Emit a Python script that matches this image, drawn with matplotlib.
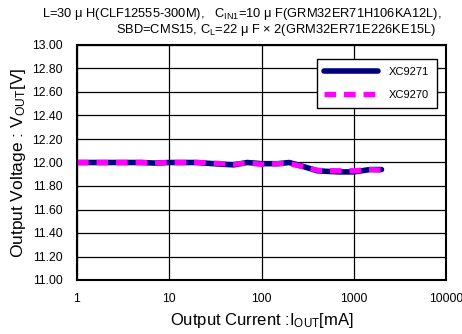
import numpy as np
import matplotlib
matplotlib.use("Agg")
import matplotlib.pyplot as plt

plt.rcParams['font.family'] = ['Liberation Sans', 'DejaVu Sans']
plt.rcParams['mathtext.fontset'] = 'custom'
plt.rcParams['mathtext.rm'] = 'Liberation Sans'
plt.rcParams['mathtext.it'] = 'Liberation Sans'

# output current [mA]
iout = [1, 2, 3, 5, 7, 10, 20, 30, 50, 70, 100, 150, 200, 300, 400, 500, 700, 1000, 1500, 2000]
# output voltage [V]
vout_9271 = [12.00, 12.00, 12.00, 12.00, 11.995, 12.00, 12.00, 11.99, 11.98, 12.00,
             11.99, 11.99, 12.00, 11.96, 11.93, 11.925, 11.92, 11.92, 11.94, 11.94]
vout_9270 = [12.00, 12.00, 12.00, 12.00, 11.995, 12.00, 12.00, 11.995, 11.985, 11.995,
             11.985, 11.99, 11.99, 11.96, 11.935, 11.93, 11.93, 11.93, 11.94, 11.935]
yticks = [11.0, 11.2, 11.4, 11.6, 11.8, 12.0, 12.2, 12.4, 12.6, 12.8, 13.0]
xticks = [1, 10, 100, 1000, 10000]

fig = plt.figure(figsize=(4.62, 3.34), dpi=100)
ax = fig.add_axes([77/462, 1-280/334, 369/462, 235/334])

ax.plot(iout, vout_9271, color='#000080', lw=4, label='XC9271', solid_capstyle='round')
ax.plot(iout, vout_9270, color='#ff00ff', lw=3.8, ls=(0, (2.2, 1.5)), label='XC9270')

ax.set_xscale('log')
ax.set_xlim(1, 10000)
ax.set_ylim(11, 13)
ax.set_xticks(xticks)
ax.set_xticklabels([str(t) for t in xticks])
ax.minorticks_off()
ax.set_yticks(yticks)
ax.set_yticklabels(['%.2f' % t for t in yticks])
ax.tick_params(labelsize=8.8, length=0)
ax.tick_params(axis='y', pad=10)
ax.tick_params(axis='x', pad=9)
ax.grid(True, color='black', lw=0.9)
for s in ax.spines.values():
    s.set_linewidth(1.5)

ax.set_xlabel(r'Output Current :$\mathrm{I_{OUT}}$[mA]', fontsize=12, labelpad=5)
ax.set_ylabel(r'Output Voltage : V$_{\mathrm{OUT}}$[V]', fontsize=12.5, labelpad=3)

leg = ax.legend(loc='upper right', bbox_to_anchor=(0.99, 0.965), fontsize=8,
                fancybox=False, edgecolor='black', framealpha=1, handlelength=4.8,
                handletextpad=1.0, labelspacing=1.2, borderpad=0.7)
leg.get_frame().set_linewidth(1.0)

fig.text(441/462, 1-14/334, r'L=30 $\mu$ H(CLF12555-300M),   C$_{\mathrm{IN1}}$=10 $\mu$ F(GRM32ER71H106KA12L),',
         ha='right', va='center', fontsize=9.3)
fig.text(436/462, 1-30/334, r'SBD=CMS15, C$_{\mathrm{L}}$=22 $\mu$ F $\times$ 2(GRM32ER71E226KE15L)',
         ha='right', va='center', fontsize=9.3)

fig.savefig('out.png', dpi=100)
